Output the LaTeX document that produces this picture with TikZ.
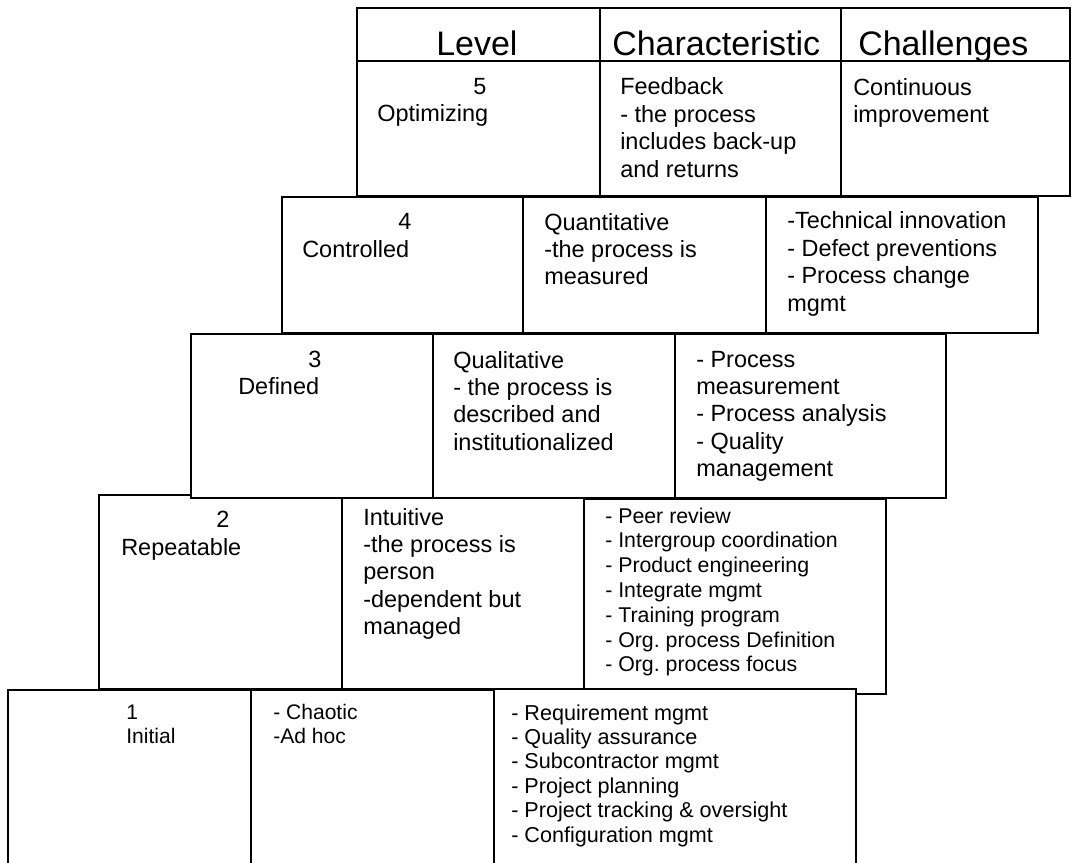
\documentclass[tikz,border=0pt]{standalone}
\usepackage{fontspec}
\setmainfont{Liberation Sans}
\frenchspacing
\tikzset{
  cell/.style={draw=black, fill=white, line width=1.4pt},
  txt/.style={anchor=base west, inner sep=0pt, align=left},
  head/.style={txt, font=\fontsize{25.5pt}{30pt}\selectfont},
  body/.style={txt, font=\fontsize{17.6pt}{20.6pt}\selectfont},
  list/.style={txt, font=\fontsize{16pt}{18.6pt}\selectfont},
  low/.style={txt, font=\fontsize{15.8pt}{17.3pt}\selectfont},
  lowlist/.style={txt, font=\fontsize{16.2pt}{18.3pt}\selectfont},
}
% note: for multi-line nodes the base anchor is the baseline of the LAST line
\begin{document}
\begin{tikzpicture}[x=0.75pt, y=-0.75pt]
\useasboundingbox (0,0) rectangle (1076,863);
\clip (0,0) rectangle (1076,863);
\fill[white] (0,0) rectangle (1076,863);

% ---- Level 5 with header ----
\draw[cell] (357,8) rectangle (600,61);
\draw[cell] (600,8) rectangle (841,61);
\draw[cell] (841,8) rectangle (1070,61);
\draw[cell] (357,61) rectangle (600,196);
\draw[cell] (600,61) rectangle (841,196);
\draw[cell] (841,61) rectangle (1070,196);
\node[head] (hlevel) at (436,56) {Level};
\node[head] (hchar) at (612,56) {Characteristic};
\node[head] (hchal) at (858,56) {Challenges};
\node[body] (n5) at (473,95) {5};
\node[body] (l5) at (377,122) {Optimizing};
\node[body] (c5) at (620,177.4) {Feedback\\- the process\\includes back-up\\and returns};
\node[body] (g5) at (853,122.5) {Continuous\\improvement};

% ---- Level 4 ----
\draw[cell] (282,197) rectangle (523,333);
\draw[cell] (523,197) rectangle (766,333);
\draw[cell] (766,197) rectangle (1038,333);
\node[body] (n4) at (398,230) {4};
\node[body] (l4) at (302,258) {Controlled};
\node[body] (c4) at (544,285) {Quantitative\\-the process is\\measured};
\node[body] (g4) at (787,311.4) {-Technical innovation\\- Defect preventions\\- Process change\\mgmt};

% ---- Level 2 (drawn before level 3, which overlaps it) ----
\draw[cell] (99,495) rectangle (342,689);
\draw[cell] (342,495) rectangle (584,689);
\draw[cell] (584,499) rectangle (886,694);

% ---- Level 3 ----
\draw[cell] (191,334) rectangle (433,498);
\draw[cell] (433,334) rectangle (675,498);
\draw[cell] (675,334) rectangle (946,498);
\node[body] (n3) at (308,368) {3};
\node[body] (l3) at (238,395) {Defined};
\node[body] (c3) at (453,450.4) {Qualitative\\- the process is\\described and\\institutionalized};
\node[body] (g3) at (696,476.9) {- Process\\measurement\\- Process analysis\\- Quality\\management};

% ---- Level 2 texts ----
\node[body] (n2) at (216,527) {2};
\node[body] (l2) at (121,555) {Repeatable};
\node[body] (c2) at (363,634.9) {Intuitive\\-the process is\\person\\-dependent but\\managed};
\node[list] (g2) at (605,671.8) {- Peer review\\- Intergroup coordination\\- Product engineering\\- Integrate mgmt\\- Training program\\- Org. process Definition\\- Org. process focus};

% ---- Level 1 ----
\draw[cell] (8,690) rectangle (251,880);
\draw[cell] (251,690) rectangle (494,880);
\draw[cell] (494,689) rectangle (856,880);
\node[low] (l1) at (126,743) {1\\Initial};
\node[low] (c1) at (273,743) {- Chaotic\\-Ad hoc};
\node[lowlist] (g1) at (511,842) {- Requirement mgmt\\- Quality assurance\\- Subcontractor mgmt\\- Project planning\\- Project tracking \& oversight\\- Configuration mgmt};
\end{tikzpicture}
\end{document}
